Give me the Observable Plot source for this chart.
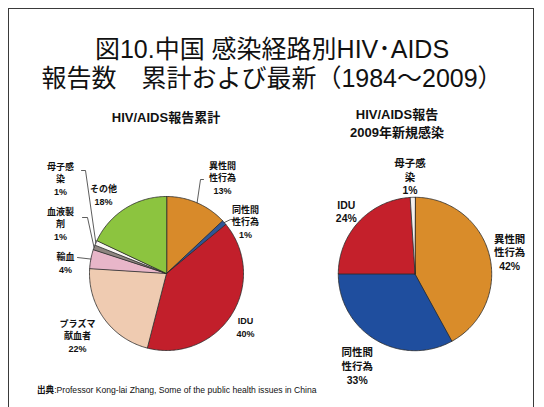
<!DOCTYPE html>
<html>
<head>
<meta charset="utf-8">
<script src="https://cdn.jsdelivr.net/npm/d3@7"></script>
<script src="https://cdn.jsdelivr.net/npm/@observablehq/plot@0.6"></script>
<style>
  html, body { margin: 0; padding: 0; background: #fff; }
  #wrap { position: relative; width: 544px; height: 407px; overflow: hidden;
          font-family: "Liberation Sans", "Noto Sans CJK JP", sans-serif; color: #111; }
  #frame { position: absolute; left: 8px; top: 8px; width: 526px; height: 430px;
           box-sizing: border-box; border: 1.5px solid #3a3a3a; }
  .title { position: absolute; left: 0; top: 35px; width: 544px; text-align: center;
           font-size: 25px; line-height: 28.5px; white-space: pre; }
  .sub { position: absolute; text-align: center; font-weight: bold; font-size: 13px; white-space: pre; }
  #subL { left: 66px; width: 200px; top: 110px; line-height: 16px; }
  #subR { left: 297px; width: 200px; top: 106px; line-height: 18px; }
  .pie { position: absolute; }
  #pieL { left: 36px; top: 143px; }
  #pieR { left: 285px; top: 144px; }
  #cap { position: absolute; left: 37px; top: 385px; font-size: 8.6px; line-height: 10px; white-space: pre; z-index: 5; }
</style>
</head>
<body>
<div id="wrap">
  <div id="frame"></div>
  <div class="title">図10.中国 感染経路別HIV･AIDS
報告数　累計および最新（1984～2009）</div>
  <div class="sub" id="subL">HIV/AIDS報告累計</div>
  <div class="sub" id="subR">HIV/AIDS報告
2009年新規感染</div>
  <div class="pie" id="pieL"></div>
  <div class="pie" id="pieR"></div>
  <div id="cap"><b>出典</b>:Professor Kong-lai Zhang, Some of the public health issues in China</div>
</div>
<script>
// ---- data ----
const cumCategories = ["異性間\n性行為", "同性間\n性行為", "IDU", "プラズマ\n献血者", "輸血", "血液製\n剤", "母子感\n染", "その他"];
const cumValues = [13, 1, 40, 22, 4, 1, 1, 18];
const newCategories = ["異性間\n性行為", "同性間\n性行為", "IDU", "母子感\n染"];
const newValues = [42, 33, 24, 1];

// ---- styles ----
const cumColors = ["#D88A2A", "#2F5597", "#C21F2B", "#EFCBB1", "#E8B6C9", "#8E8580", "#FAF6F4", "#8CC43F"];
const newColors = ["#D98C2A", "#1F4E9E", "#C4202B", "#F4F0EE"];

// ---- label layout (pixel offsets from pie centre) ----
const cumLabelPos = [[56, -96], [79, -52], [79, 53], [-89, 62], [-101, -11], [-106, -50], [-106, -95], [-63, -79]];
const cumLeaders = { 0: [[37, -94], [34, -94]], 1: [[68, -54], [64, -54]], 4: [[-89, -16]], 5: [[-84, -56], [-79, -56]], 6: [[-85, -103], [-81, -103]] };
const newLabelPos = [[95, -22], [-58, 92], [-69, -63], [-5, -98]];
const newLeaders = {};

const K = 77; // pixels per unit radius
const W = 260, H = 260;

function piePlot(categories, values, colors, labelPos, leaders, fontSize, lineHeight) {
  const arcs = d3.pie().sort(null)(values);
  const pts = [];
  arcs.forEach((a, i) => {
    pts.push({i, x: 0, y: 0, c: colors[i]});
    const n = Math.max(2, Math.ceil((a.endAngle - a.startAngle) / (Math.PI / 180)));
    for (let k = 0; k <= n; k++) {
      const t = a.startAngle + (a.endAngle - a.startAngle) * k / n;
      pts.push({i, x: Math.sin(t), y: Math.cos(t), c: colors[i]});
    }
  });
  const labels = categories.map((c, i) => ({
    text: c + "\n" + values[i] + "%",
    x: labelPos[i][0] / K, y: -labelPos[i][1] / K
  }));
  const lead = [];
  Object.keys(leaders).forEach(key => {
    const i = +key, a = arcs[i], m = (a.startAngle + a.endAngle) / 2;
    leaders[key].forEach(p => lead.push({i, x: p[0] / K, y: -p[1] / K}));
    lead.push({i, x: Math.sin(m), y: Math.cos(m)});
  });
  return Plot.plot({
    width: W, height: H, margin: 0,
    style: {background: "none", overflow: "visible"},
    x: {domain: [-W / 2 / K, W / 2 / K], axis: null},
    y: {domain: [-H / 2 / K, H / 2 / K], axis: null},
    color: {type: "identity"},
    marks: [
      Plot.line(pts, {x: "x", y: "y", z: "i", fill: "c", stroke: "#2a2a2a", strokeWidth: 0.8, curve: "linear-closed"}),
      Plot.line(lead, {x: "x", y: "y", z: "i", stroke: "#333", strokeWidth: 0.8}),
      Plot.text(labels, {x: "x", y: "y", text: "text", fontSize, lineHeight, fontWeight: "bold",
        fontFamily: "'Liberation Sans','Noto Sans CJK JP',sans-serif", fill: "#111",
        textAnchor: "middle", lineAnchor: "middle"})
    ]
  });
}

document.getElementById("pieL").append(piePlot(cumCategories, cumValues, cumColors, cumLabelPos, cumLeaders, 9, 1.38));
document.getElementById("pieR").append(piePlot(newCategories, newValues, newColors, newLabelPos, newLeaders, 10.5, 1.3));
</script>
</body>
</html>
